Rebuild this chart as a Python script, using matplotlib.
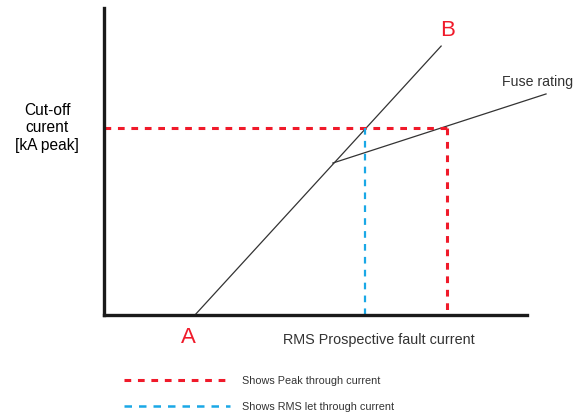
import matplotlib
matplotlib.use("Agg")
import matplotlib.pyplot as plt
from matplotlib.lines import Line2D

plt.rcParams['font.family'] = ['Liberation Sans', 'DejaVu Sans']

# Data (arbitrary units)
ab_x = [2.15, 7.97]          # line A -> B
ab_y = [0.0, 8.76]
fuse_x = [5.41, 10.45]       # fuse rating line
fuse_y = [4.95, 7.20]
peak_y = 6.09                # cut-off current level
peak_x = 8.11                # red vertical
rms_x = 6.16                 # blue vertical
xlim = (0, 10)
ylim = (0, 10)

red = '#f01a2a'
blue = '#1aa8e6'
txt = '#333333'

fig = plt.figure(figsize=(5.79, 4.17), dpi=100)
ax = fig.add_axes([104/579, (417-315)/417, (527-104)/579, (315-8)/417])
ax.set_xlim(*xlim)
ax.set_ylim(*ylim)
for s in ['top', 'right']:
    ax.spines[s].set_visible(False)
for s in ['left', 'bottom']:
    ax.spines[s].set_linewidth(2.4)
    ax.spines[s].set_color('#1a1a1a')
ax.set_xticks([])
ax.set_yticks([])

ax.plot(ab_x, ab_y, color='#333333', lw=0.9, clip_on=False)
ax.plot(fuse_x, fuse_y, color='#333333', lw=0.9, clip_on=False)

red_ls = (0, (2.2, 2.2))
blue_ls = (0, (3.0, 2.8))
ax.plot([xlim[0], peak_x], [peak_y, peak_y], color=red, lw=2.2, ls=red_ls)
ax.plot([peak_x, peak_x], [peak_y, ylim[0]], color=red, lw=2.2, ls=red_ls)
ax.plot([rms_x, rms_x], [peak_y, ylim[0]], color=blue, lw=1.6, ls=blue_ls)

ax.text(8.13, 8.93, 'B', color=red, fontsize=16, ha='center', va='bottom')
ax.text(ab_x[0] - 0.15, -0.4, 'A', color=red, fontsize=16, ha='center', va='top')
ax.text(11.1, 7.35, 'Fuse rating', color=txt, fontsize=10.2, ha='right', va='bottom')
ax.text(6.5, -0.58, 'RMS Prospective fault current', color=txt, fontsize=10.4, ha='center', va='top')
fig.text(47/579, 1 - 128/417, 'Cut-off\ncurent\n[kA peak]', color='black', fontsize=11.2,
         ha='center', va='center', linespacing=1.2)

handles = [Line2D([], [], color=red, lw=2.2, ls=red_ls),
           Line2D([], [], color=blue, lw=1.8, ls=blue_ls)]
labels = ['Shows Peak through current', 'Shows RMS let through current']
leg = fig.legend(handles, labels, loc='center left', bbox_to_anchor=(114/579, 1 - 394/417),
                 frameon=False, fontsize=7.8, handlelength=9.8, handletextpad=1.1,
                 labelspacing=1.45, labelcolor=txt)

fig.savefig('out.png', dpi=100)
